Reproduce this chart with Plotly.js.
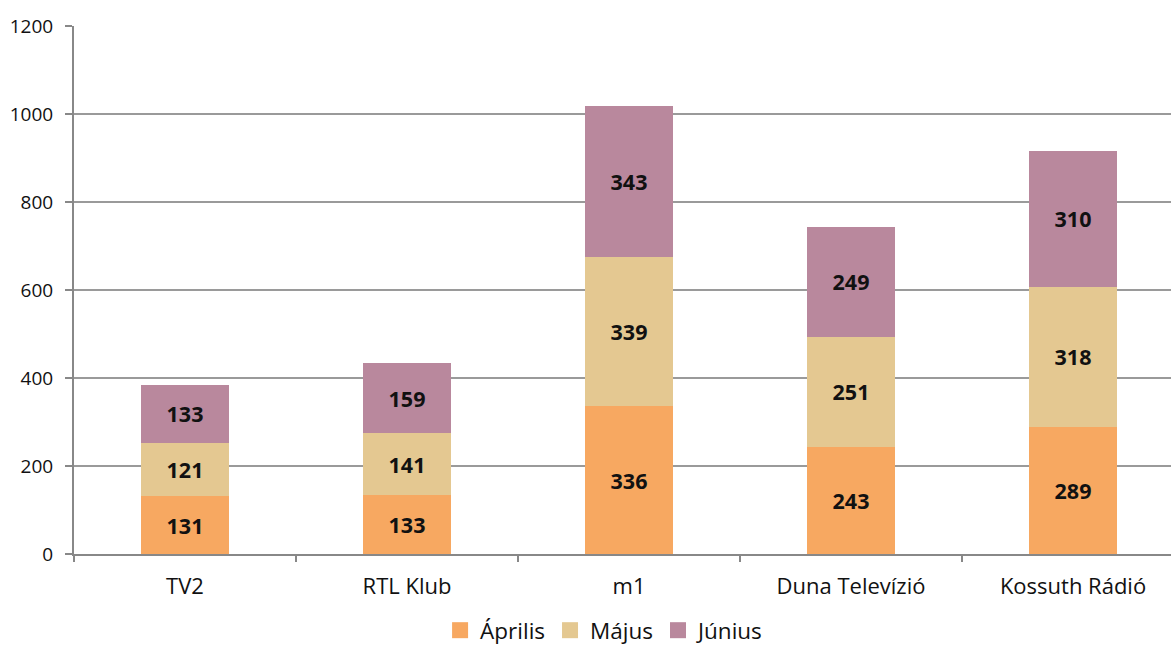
<!DOCTYPE html>
<html>
<head>
<meta charset="utf-8">
<script src="https://cdn.plot.ly/plotly-3.0.1.min.js"></script>
<style>html,body{margin:0;padding:0;background:#fff;overflow:hidden;}#chart{width:1184px;height:646px;}</style>
</head>
<body>
<div id="chart"></div>
<script>
const categories = ["TV2", "RTL Klub", "m1", "Duna Televízió", "Kossuth Rádió"];
const seriesNames = ["Április", "Május", "Június"];
const aprilis = [131, 133, 336, 243, 289];
const majus = [121, 141, 339, 251, 318];
const junius = [133, 159, 343, 249, 310];
const colors = ["#F7A861", "#E4C891", "#B9889D"];
const yTicks = [0, 200, 400, 600, 800, 1000, 1200];

const FONT = "Open Sans, Noto Sans, sans-serif";
const bars = [aprilis, majus, junius].map((vals, i) => ({
  type: "bar",
  name: seriesNames[i],
  x: categories,
  y: vals,
  text: vals.map(String),
  textposition: "inside",
  insidetextanchor: "middle",
  textangle: 0,
  textfont: {family: FONT, size: 21.5, color: "#111", weight: 700},
  marker: {color: colors[i], line: {width: 0}},
  showlegend: false,
  hoverinfo: "none"
}));
const legendItems = seriesNames.map((n, i) => ({
  type: "scatter",
  mode: "markers",
  name: n,
  x: [null], y: [null],
  marker: {symbol: "square", size: 17, color: colors[i]},
  showlegend: true,
  hoverinfo: "none"
}));

const layout = {
  width: 1184, height: 646,
  margin: {l: 74, r: 0, t: 26, b: 92, autoexpand: false},
  barmode: "stack",
  bargap: 0.6,
  plot_bgcolor: "#fff",
  paper_bgcolor: "#fff",
  font: {family: FONT, color: "#111"},
  showlegend: true,
  legend: {orientation: "h", x: 0.478, xanchor: "center", y: -0.145, yanchor: "middle",
    font: {size: 22.5, family: FONT, color: "#111"}, itemwidth: 30, traceorder: "normal",
    itemsizing: "trace"},
  xaxis: {
    type: "category",
    tickson: "boundaries",
    ticks: "outside", ticklen: 6, tickcolor: "#888", tickwidth: 2,
    showline: true, linecolor: "#888", linewidth: 2,
    tickfont: {size: 22, family: FONT, color: "#111"},
    ticklabelstandoff: 12,
    automargin: false,
    fixedrange: true
  },
  yaxis: {
    range: [0, 1200],
    tickvals: yTicks,
    ticktext: yTicks.map(String),
    ticks: "outside", ticklen: 7, tickcolor: "#888", tickwidth: 2,
    showline: true, linecolor: "#888", linewidth: 2,
    showgrid: true, gridcolor: "#9a9a9a", gridwidth: 1.3,
    zeroline: false,
    tickfont: {size: 19, family: FONT, color: "#111"},
    ticklabelstandoff: 8,
    automargin: false,
    fixedrange: true
  }
};

Plotly.newPlot("chart", bars.concat(legendItems), layout, {staticPlot: true, displayModeBar: false});
</script>
</body>
</html>
